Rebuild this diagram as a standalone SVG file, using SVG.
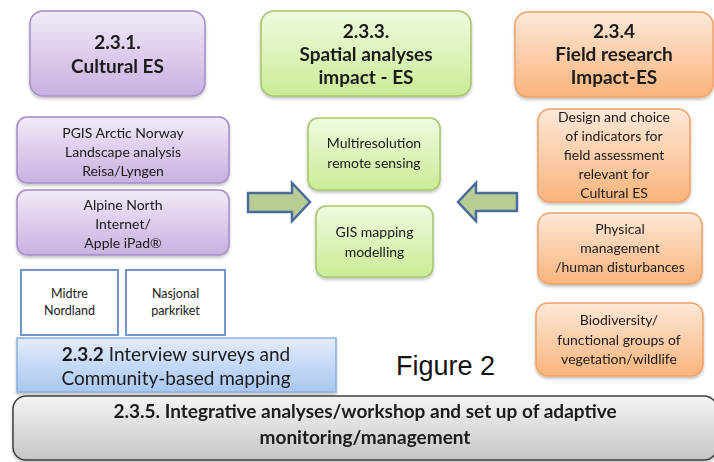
<svg xmlns="http://www.w3.org/2000/svg" width="714" height="462" viewBox="0 0 714 462">
<style>
text{font-family:Lato,"Open Sans","Liberation Sans",sans-serif;fill:#1a1a1a;text-anchor:middle}
.t{font-size:19px;font-weight:bold}
.m{font-size:14px}
.s{font-size:12.5px}
.pu{fill:url(#gPu);stroke:#a48cc6;stroke-width:1.5}
.gr{fill:url(#gGr);stroke:#a7c46a;stroke-width:1.5}
.or{fill:url(#gOr);stroke:#f2a065;stroke-width:1.5}
.wh{fill:#fff;stroke:#6f97cc;stroke-width:2}
.bl{fill:url(#gBl);stroke:#8eaedb;stroke-width:1.5}
.gy{fill:url(#gGy);stroke:#3f3f3f;stroke-width:1.5}
.ar{fill:#b8cd93;stroke:#4a6c9b;stroke-width:2.5;stroke-linejoin:miter}
</style>
<defs>
<linearGradient id="gPu" x1="0" y1="0" x2="0" y2="1"><stop offset="0" stop-color="#f1eaf8"/><stop offset="1" stop-color="#c8b0e0"/></linearGradient>
<linearGradient id="gGr" x1="0" y1="0" x2="0" y2="1"><stop offset="0" stop-color="#f0fadf"/><stop offset="1" stop-color="#c9ec96"/></linearGradient>
<linearGradient id="gOr" x1="0" y1="0" x2="0" y2="1"><stop offset="0" stop-color="#fde8d8"/><stop offset="1" stop-color="#f9b47c"/></linearGradient>
<linearGradient id="gBl" x1="0" y1="0" x2="0" y2="1"><stop offset="0" stop-color="#e2ecfb"/><stop offset="1" stop-color="#a9c7f1"/></linearGradient>
<linearGradient id="gGy" x1="0" y1="0" x2="0" y2="1"><stop offset="0" stop-color="#f4f4f4"/><stop offset="1" stop-color="#c6c6c6"/></linearGradient>
<filter id="sh" x="-10%" y="-10%" width="125%" height="135%"><feDropShadow dx="0" dy="2" stdDeviation="1.5" flood-color="#000" flood-opacity="0.25"/></filter>
</defs>
<rect width="714" height="462" fill="#fff"/>

<g id="n231" filter="url(#sh)"><rect class="pu" x="30" y="11" width="175" height="85" rx="13"/>
<text class="t" x="117.5" y="49">2.3.1.</text><text class="t" x="117.5" y="73">Cultural ES</text></g>

<g id="n233" filter="url(#sh)"><rect class="gr" x="261" y="11" width="210" height="85" rx="13"/>
<text class="t" x="366" y="38">2.3.3.</text><text class="t" x="366" y="61">Spatial analyses</text><text class="t" x="366" y="84">impact - ES</text></g>

<g id="n234" filter="url(#sh)"><rect class="or" x="515" y="12" width="198" height="85" rx="13"/>
<text class="t" x="614" y="38">2.3.4</text><text class="t" x="614" y="61">Field research</text><text class="t" x="614" y="84">Impact-ES</text></g>

<g id="pgis" filter="url(#sh)"><rect class="pu" x="17" y="117" width="212" height="66" rx="10"/>
<text class="m" x="123" y="138">PGIS Arctic Norway</text><text class="m" x="123" y="157">Landscape analysis</text><text class="m" x="123" y="176">Reisa/Lyngen</text></g>

<g id="alpine" filter="url(#sh)"><rect class="pu" x="17" y="190" width="212" height="65" rx="10"/>
<text class="m" x="123" y="210">Alpine North</text><text class="m" x="123" y="229">Internet/</text><text class="m" x="123" y="248">Apple iPad®</text></g>

<g id="midtre"><rect class="wh" x="21" y="270" width="97" height="65"/>
<text class="s" x="69.5" y="298">Midtre</text><text class="s" x="69.5" y="315">Nordland</text></g>

<g id="nasjonal"><rect class="wh" x="126" y="270" width="99" height="65"/>
<text class="s" x="175.5" y="298">Nasjonal</text><text class="s" x="175.5" y="315">parkriket</text></g>

<g id="n232" filter="url(#sh)"><rect class="bl" x="17" y="338" width="319" height="54"/>
<text x="176" y="361" style="font-size:19px"><tspan font-weight="bold">2.3.2</tspan> Interview surveys and</text>
<text x="176" y="385" style="font-size:19px">Community-based mapping</text></g>

<g id="multi" filter="url(#sh)"><rect class="gr" x="308" y="118" width="132" height="72" rx="10"/>
<text class="m" x="374" y="148">Multiresolution</text><text class="m" x="374" y="168">remote sensing</text></g>

<g id="gis" filter="url(#sh)"><rect class="gr" x="316" y="206" width="117" height="71" rx="10"/>
<text class="m" x="374.5" y="237">GIS mapping</text><text class="m" x="374.5" y="257">modelling</text></g>

<g id="design" filter="url(#sh)"><rect class="or" x="538" y="109" width="152" height="93" rx="12"/>
<text class="m" x="614" y="122">Design and choice</text><text class="m" x="614" y="141">of indicators for</text><text class="m" x="614" y="160">field assessment</text><text class="m" x="614" y="179">relevant for</text><text class="m" x="614" y="198">Cultural ES</text></g>

<g id="physical" filter="url(#sh)"><rect class="or" x="538" y="213" width="164" height="71" rx="12"/>
<text class="m" x="620" y="234">Physical</text><text class="m" x="620" y="253">management</text><text class="m" x="620" y="272">/human disturbances</text></g>

<g id="bio" filter="url(#sh)"><rect class="or" x="536" y="303" width="167" height="73" rx="12"/>
<text class="m" x="619" y="325">Biodiversity/</text><text class="m" x="619" y="345">functional groups  of</text><text class="m" x="619" y="364">vegetation/wildlife</text></g>

<g id="n235" filter="url(#sh)"><rect class="gy" x="13" y="396" width="704" height="64" rx="13"/>
<text x="365" y="418" style="font-size:19px;font-weight:bold">2.3.5. Integrative analyses/workshop and set up of adaptive</text>
<text x="365" y="444" style="font-size:19px;font-weight:bold">monitoring/management</text></g>

<g id="caption"><text x="445.5" y="375" style="font-family:'Liberation Sans',Arial,sans-serif;font-size:27px;fill:#111">Figure 2</text></g>

<g id="connectors">
<polygon class="ar" points="248,193 292,193 292,183 310,202 292,221 292,212 248,212"/>
<polygon class="ar" points="517,193 476,193 476,183 458,202 476,221 476,211 517,211"/>
</g>
</svg>
